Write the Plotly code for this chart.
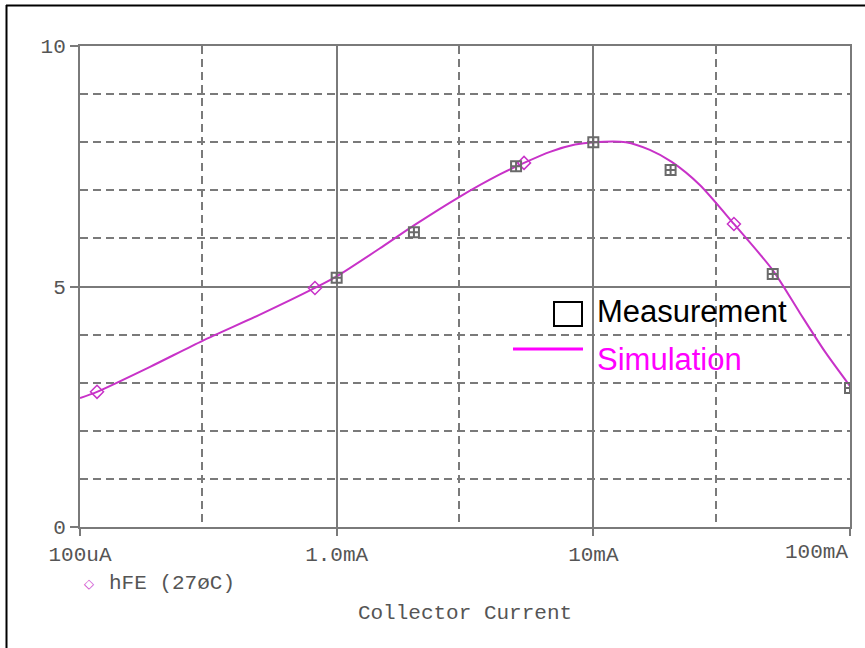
import math
import plotly.graph_objects as go

# ---------------- data ----------------
# Simulation curve (hFE vs collector current, A)
sim_current = [1.0e-4, 1.165e-4, 1.875e-4, 3.0e-4, 5.0e-4, 8.23e-4, 1.0e-3, 1.5e-3,
               2.0e-3, 3.0e-3, 4.32e-3, 5.37e-3, 6.78e-3, 8.49e-3, 1.0e-2, 1.34e-2,
               1.66e-2, 2.02e-2, 2.6e-2, 3.53e-2, 5.0e-2, 6.38e-2, 8.0e-2, 1.0e-1]
sim_hfe = [2.68, 2.81, 3.33, 3.87, 4.41, 4.97, 5.21, 5.82,
           6.27, 6.86, 7.33, 7.57, 7.80, 7.95, 8.00, 8.00,
           7.84, 7.59, 7.11, 6.30, 5.34, 4.45, 3.64, 2.93]

# Diamond markers sitting on the simulation trace
diamond_current = [1.165e-4, 8.23e-4, 5.37e-3, 3.53e-2]
diamond_hfe = [2.81, 4.97, 7.57, 6.30]

# Measurement points
meas_current = [1.0e-3, 2.0e-3, 5.0e-3, 1.0e-2, 2.0e-2, 5.0e-2, 1.0e-1]
meas_hfe = [5.18, 6.13, 7.50, 8.00, 7.42, 5.26, 2.89]

x_tick_vals = [1e-4, 1e-3, 1e-2, 1e-1]
x_tick_text = ["100uA", "1.0mA", "10mA", ""]
x_last_label = "100mA"
x_minor_vals = [3e-4, 3e-3, 3e-2]
y_tick_vals = [0, 5, 10]
y_tick_text = ["0", "5", "10"]

trace_label = "hFE (27øC)"
x_title = "Collector Current"
legend_meas = "Measurement"
legend_sim = "Simulation"

# ---------------- styling ----------------
W, H = 865, 648
ML, MR, MT, MB = 80, 15, 46, 121
PW, PH = W - ML - MR, H - MT - MB


def px(xp):
    return (xp - ML) / PW


def py(yp):
    return (H - MB - yp) / PH


axis_col = "#7a7a7a"
text_col = "#555555"
mono = "Liberation Mono, DejaVu Sans Mono, monospace"
sans = "Liberation Sans, Arial, sans-serif"
curve_col = "#c832c8"

fig = go.Figure()

fig.add_trace(go.Scatter(
    x=sim_current, y=sim_hfe, mode="lines",
    line=dict(color=curve_col, width=2, shape="spline", smoothing=0.7),
    name="Simulation", showlegend=False, hoverinfo="x+y"))

fig.add_trace(go.Scatter(
    x=diamond_current, y=diamond_hfe, mode="markers",
    marker=dict(symbol="diamond-open", size=10, color=curve_col,
                line=dict(width=1.5, color=curve_col)),
    name=trace_label, showlegend=False))

fig.add_trace(go.Scatter(
    x=meas_current, y=meas_hfe, mode="markers",
    marker=dict(symbol="square-cross-open", size=10, color="#6a6a6a",
                line=dict(width=2, color="#6a6a6a")),
    name="Measurement", showlegend=False))

fig.update_layout(
    width=W, height=H,
    margin=dict(l=ML, r=MR, t=MT, b=MB, pad=0),
    paper_bgcolor="white", plot_bgcolor="white",
    showlegend=False,
    xaxis=dict(
        type="log", range=[-4, -1],
        tickmode="array", tickvals=x_tick_vals, ticktext=x_tick_text,
        ticks="outside", ticklen=7, tickwidth=2, tickcolor=axis_col,
        showline=True, linecolor=axis_col, linewidth=2, mirror=True,
        showgrid=True, gridcolor=axis_col, gridwidth=2,
        zeroline=False,
        tickfont=dict(family=mono, size=21, color=text_col),
        minor=dict(tickmode="array", tickvals=x_minor_vals, showgrid=True,
                   gridcolor=axis_col, gridwidth=2, griddash="8px,5px", ticks=""),
        title=dict(text=x_title, font=dict(family=mono, size=21, color=text_col),
                   standoff=38),
        automargin=False,
    ),
    yaxis=dict(
        range=[0, 10],
        tickmode="array", tickvals=y_tick_vals, ticktext=y_tick_text,
        ticks="outside", ticklen=8, tickwidth=2, tickcolor=axis_col,
        showline=True, linecolor=axis_col, linewidth=2, mirror=True,
        showgrid=True, gridcolor=axis_col, gridwidth=2,
        zeroline=False,
        tickfont=dict(family=mono, size=21, color=text_col),
        minor=dict(dtick=1, showgrid=True, gridcolor=axis_col, gridwidth=2,
                   griddash="8px,5px", ticks=""),
        automargin=False,
    ),
)

# last x tick label, right-aligned to the axis end
fig.add_annotation(x=math.log10(x_tick_vals[-1]), xref="x", y=py(552), yref="paper",
                   text=x_last_label, showarrow=False, xanchor="right", yanchor="middle",
                   font=dict(family=mono, size=21, color=text_col))

# trace label under the axis
fig.add_annotation(x=px(89), y=py(583), xref="paper", yref="paper", text="◇",
                   showarrow=False, xanchor="center", yanchor="middle",
                   font=dict(family="DejaVu Sans", size=13, color=curve_col))
fig.add_annotation(x=px(107), y=py(583), xref="paper", yref="paper", text=trace_label,
                   showarrow=False, xanchor="left", yanchor="middle",
                   font=dict(family=mono, size=21, color=text_col))

# custom in-plot legend
fig.add_shape(type="rect", xref="paper", yref="paper",
              x0=px(554), x1=px(582), y0=py(326), y1=py(302),
              line=dict(color="black", width=2), fillcolor="white")
fig.add_shape(type="line", xref="paper", yref="paper",
              x0=px(513), x1=px(583), y0=py(349), y1=py(349),
              line=dict(color="#ff00ff", width=3))
fig.add_annotation(x=px(595), y=py(312), xref="paper", yref="paper", text=legend_meas,
                   showarrow=False, xanchor="left", yanchor="middle",
                   font=dict(family=sans, size=31, color="black"))
fig.add_annotation(x=px(595), y=py(359), xref="paper", yref="paper", text=legend_sim,
                   showarrow=False, xanchor="left", yanchor="middle",
                   font=dict(family=sans, size=31, color="#ff00ff"))

# outer frame (top and left edges)
fig.add_shape(type="line", xref="paper", yref="paper",
              x0=px(6), x1=px(866), y0=py(5.5), y1=py(5.5),
              line=dict(color="black", width=2))
fig.add_shape(type="line", xref="paper", yref="paper",
              x0=px(6.5), x1=px(6.5), y0=py(5), y1=py(649),
              line=dict(color="black", width=2))

fig.write_html("out.html")
